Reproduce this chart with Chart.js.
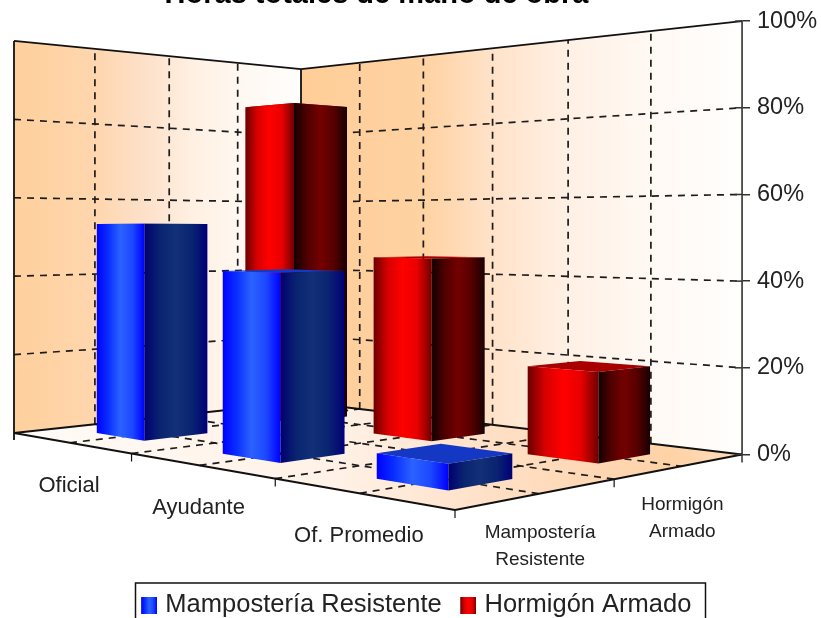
<!DOCTYPE html>
<html>
<head>
<meta charset="utf-8">
<title>Horas totales de mano de obra</title>
<script src="https://cdn.jsdelivr.net/npm/chart.js@4/dist/chart.umd.min.js"></script>
<style>
  html, body { margin: 0; padding: 0; background: #fff; overflow: hidden; }
  canvas { display: block; }
</style>
</head>
<body>
<canvas id="grafico" width="821" height="618"></canvas>
<script>
const categories = ["Oficial", "Ayudante", "Of. Promedio"];
const seriesNames = ["Mampostería Resistente", "Hormigón Armado"];
const seriesAxisLabels = [["Mampostería", "Resistente"], ["Hormigón", "Armado"]];
const mamposteria = [53.5, 42.5, 5.5];
const hormigon = [86, 45, 20.5];
const yStep = 20;

const FONT = "'Liberation Sans', Arial, sans-serif";

const shades = [
  {
    front: ["#0000ff", "#0a30ff", "#2c62ff", "#1c48ff", "#0000ff"],
    side: ["#000070", "#0a2470", "#123078", "#0a2470", "#000078"],
    top: "#1438c4",
  },
  {
    front: ["#6c0000", "#d80000", "#ff0000", "#e80000", "#700000"],
    side: ["#120000", "#500000", "#740000", "#560000", "#180000"],
    top: "#a80000",
  },
];

// little gradient swatch used as legend marker (left margin nudges it right)
function swatch(stops) {
  const c = document.createElement("canvas");
  c.width = 21;
  c.height = 17;
  const g = c.getContext("2d");
  const grad = g.createLinearGradient(5, 0, 21, 0);
  stops.forEach((s, i) => grad.addColorStop(i / (stops.length - 1), s));
  g.fillStyle = grad;
  g.fillRect(5, 0, 16, 17);
  return c;
}

// floor of the box: u runs along the categories, v along the series
function makeProjection(chart) {
  const yScale = chart.scales.y;
  const A = [14, 433], B = [455, 510], D = [301, 402];
  const C = [chart.chartArea.right, yScale.bottom];

  const dx1 = B[0] - C[0], dx2 = D[0] - C[0], sx = A[0] - B[0] + C[0] - D[0];
  const dy1 = B[1] - C[1], dy2 = D[1] - C[1], sy = A[1] - B[1] + C[1] - D[1];
  const den = dx1 * dy2 - dx2 * dy1;
  const g = (sx * dy2 - dx2 * sy) / den;
  const h = (dx1 * sy - sx * dy1) / den;
  const a = B[0] - A[0] + g * B[0], b = D[0] - A[0] + h * D[0];
  const d = B[1] - A[1] + g * B[1], e = D[1] - A[1] + h * D[1];

  const fullHeight = yScale.bottom - yScale.top;
  const wCorner = 1 + g + h;

  return function (u, v, frac) {
    const w = 1 + g * u + h * v;
    const x = (a * u + b * v + A[0]) / w;
    const y = (d * u + e * v + A[1]) / w;
    return [x, y - (frac || 0) * fullHeight * wCorner / w];
  };
}

function poly(ctx, pts) {
  ctx.beginPath();
  pts.forEach((p, i) => (i ? ctx.lineTo(p[0], p[1]) : ctx.moveTo(p[0], p[1])));
  ctx.closePath();
}

function seg(ctx, p, q) {
  ctx.beginPath();
  ctx.moveTo(p[0], p[1]);
  ctx.lineTo(q[0], q[1]);
  ctx.stroke();
}

function hGradient(ctx, x0, x1, stops) {
  const grad = ctx.createLinearGradient(x0, 0, x1, 0);
  stops.forEach((s) => grad.addColorStop(s[0], s[1]));
  return grad;
}

function drawBox(ctx, chart, P) {
  const yScale = chart.scales.y;
  const top = 1;

  // walls and floor
  poly(ctx, [P(0, 0), P(0, 1), P(0, 1, top), P(0, 0, top)]);
  ctx.fillStyle = hGradient(ctx, P(0, 0)[0], P(0, 1)[0], [
    [0, "#ffd09c"], [0.28, "#ffd6ae"], [0.45, "#fde0c8"], [0.62, "#fff0e2"], [0.8, "#fff8f2"], [1, "#fffefc"],
  ]);
  ctx.fill();

  poly(ctx, [P(0, 1), P(1, 1), P(1, 1, top), P(0, 1, top)]);
  ctx.fillStyle = hGradient(ctx, P(0, 1)[0], P(1, 1)[0], [
    [0, "#ffce98"], [0.28, "#ffd2a2"], [0.43, "#ffe2c8"], [0.6, "#fff0e4"], [0.8, "#fff9f4"], [1, "#fffefd"],
  ]);
  ctx.fill();

  poly(ctx, [P(0, 0), P(1, 0), P(1, 1), P(0, 1)]);
  ctx.fillStyle = hGradient(ctx, P(0, 0)[0], P(1, 1)[0], [
    [0, "#fffbf7"], [0.45, "#fff1e6"], [0.68, "#ffdec2"], [0.9, "#ffd2a6"], [1, "#ffdcba"],
  ]);
  ctx.fill();

  // dashed grid on walls and floor
  ctx.strokeStyle = "#1c1c1c";
  ctx.lineWidth = 1.7;
  ctx.setLineDash([7, 6]);
  yScale.ticks.forEach((t) => {
    if (t.value <= 0 || t.value >= yScale.max) return;
    const f = t.value / yScale.max;
    seg(ctx, P(0, 0, f), P(0, 1, f));
    seg(ctx, P(0, 1, f), P(1, 1, f));
  });
  const nu = categories.length * 2, nv = seriesNames.length * 2;
  for (let i = 1; i < nv; i++) {
    seg(ctx, P(0, i / nv), P(0, i / nv, top));
    seg(ctx, P(0, i / nv), P(1, i / nv));
  }
  for (let i = 1; i < nu; i++) {
    seg(ctx, P(i / nu, 1), P(i / nu, 1, top));
    seg(ctx, P(i / nu, 0), P(i / nu, 1));
  }
  ctx.setLineDash([]);

  // solid edges
  ctx.strokeStyle = "#111";
  ctx.lineWidth = 1.8;
  seg(ctx, P(0, 0, top), P(0, 1, top));
  seg(ctx, P(0, 1, top), P(1, 1, top));
  seg(ctx, P(0, 1), P(0, 1, top));
  seg(ctx, P(0, 0), P(0, 1));
  seg(ctx, P(0, 1), P(1, 1));
  seg(ctx, P(0, 0), P(1, 0));
  seg(ctx, P(1, 0), P(1, 1));
  const lx = P(0, 0)[0];
  seg(ctx, [lx, P(0, 0, top)[1]], [lx, P(0, 0)[1] + 7]);

  // small ticks under the two front edges
  ctx.lineWidth = 1.2;
  categories.forEach((c, i) => {
    const p = P((i + 1) / categories.length, 0);
    seg(ctx, p, [p[0], p[1] + 8]);
  });
  seriesNames.forEach((s, j) => {
    if (j === seriesNames.length - 1) return;
    const p = P(1, (j + 1) / seriesNames.length);
    seg(ctx, p, [p[0], p[1] + 8]);
  });

  // axis line runs past zero, ticks cross it
  const ax = chart.chartArea.right;
  ctx.strokeStyle = "#333";
  ctx.lineWidth = 1.5;
  seg(ctx, [ax, yScale.top], [ax, yScale.bottom + 8]);
  yScale.ticks.forEach((t) => {
    const py = yScale.getPixelForValue(t.value);
    seg(ctx, [ax - 7, py], [ax, py]);
  });
}

function drawBar(ctx, P, uc, vc, du, dv, frac, shade) {
  const u0 = uc - du, u1 = uc + du, v0 = vc - dv, v1 = vc + dv;

  poly(ctx, [P(u0, v0, frac), P(u1, v0, frac), P(u1, v1, frac), P(u0, v1, frac)]);
  ctx.fillStyle = shade.top;
  ctx.fill();

  const stops = (list) => list.map((s, i) => [i / (list.length - 1), s]);

  const lx = P(u0, v0)[0], mx = P(u1, v0)[0], rx = P(u1, v1)[0];
  poly(ctx, [P(u0, v0), P(u1, v0), P(u1, v0, frac), P(u0, v0, frac)]);
  ctx.fillStyle = hGradient(ctx, lx, mx, stops(shade.front));
  ctx.fill();

  poly(ctx, [P(u1, v0), P(u1, v1), P(u1, v1, frac), P(u1, v0, frac)]);
  ctx.fillStyle = hGradient(ctx, mx, rx, stops(shade.side));
  ctx.fill();
}

const box3d = {
  id: "box3d",
  beforeDatasetsDraw(chart) {
    const ctx = chart.ctx;
    const yScale = chart.scales.y;
    const P = makeProjection(chart);
    const full = yScale.bottom - yScale.top;

    ctx.save();
    drawBox(ctx, chart, P);

    const nCat = categories.length, nSer = seriesNames.length;
    const du = 0.4 / nCat / 2, dv = 0.4 / nSer / 2;

    // back row first so the front row covers it
    for (let j = nSer - 1; j >= 0; j--) {
      const meta = chart.getDatasetMeta(j);
      meta.data.forEach((el, i) => {
        const frac = (el.base - el.y) / full;
        drawBar(ctx, P, (i + 0.5) / nCat, (j + 0.5) / nSer, du, dv, frac, shades[j]);
      });
    }

    // labels along the front edges
    ctx.fillStyle = "#222";
    ctx.textAlign = "center";
    ctx.textBaseline = "middle";
    ctx.font = "22px " + FONT;
    categories.forEach((c, i) => {
      const p = P((i + 0.5) / nCat, 0);
      ctx.fillText(c, p[0] - 1, p[1] + 43);
    });
    ctx.font = "19px " + FONT;
    seriesAxisLabels.forEach((lines, j) => {
      const p = P(1, (j + 0.5) / nSer);
      lines.forEach((line, k) => {
        ctx.fillText(line, p[0] + 1, p[1] + 39 + k * 27);
      });
    });

    // frame around the legend
    ctx.strokeStyle = "#111";
    ctx.lineWidth = 1.5;
    ctx.strokeRect(135.5, 583, 570, 50);
    ctx.restore();

    return false;
  },
};

new Chart(document.getElementById("grafico"), {
  type: "bar",
  data: {
    labels: categories,
    datasets: [
      { label: seriesNames[0], data: mamposteria, backgroundColor: "#0a30ff", pointStyle: swatch(shades[0].front) },
      { label: seriesNames[1], data: hormigon, backgroundColor: "#e80000", pointStyle: swatch(shades[1].front) },
    ],
  },
  plugins: [box3d],
  options: {
    responsive: false,
    animation: false,
    layout: { padding: { left: 11, top: 0, right: 0, bottom: -10 } },
    scales: {
      x: {
        ticks: { display: false },
        grid: { display: false },
        border: { display: false },
        afterFit(axis) {
          axis.height = 120;
        },
      },
      y: {
        position: "right",
        min: 0,
        max: 100,
        ticks: {
          stepSize: yStep,
          padding: 7,
          color: "#222",
          font: { family: FONT, size: 23.5 },
          callback: (v) => v + "%",
        },
        grid: { drawOnChartArea: false, tickLength: 8, color: "#333", lineWidth: 1.5 },
        border: { color: "#333", width: 1.5 },
        afterFit(axis) {
          axis.width = 79;
        },
      },
    },
    plugins: {
      title: {
        display: true,
        fullSize: false,
        text: "Horas totales de mano de obra",
        color: "#000",
        font: { family: FONT, size: 29, weight: "bold" },
        padding: { top: -22.4, bottom: 8.6 },
      },
      legend: {
        position: "bottom",
        labels: {
          usePointStyle: true,
          boxWidth: 12,
          boxHeight: 12,
          padding: 18,
          color: "#222",
          font: { family: FONT, size: 25.5 },
        },
      },
      tooltip: { enabled: false },
    },
  },
});
</script>
</body>
</html>
